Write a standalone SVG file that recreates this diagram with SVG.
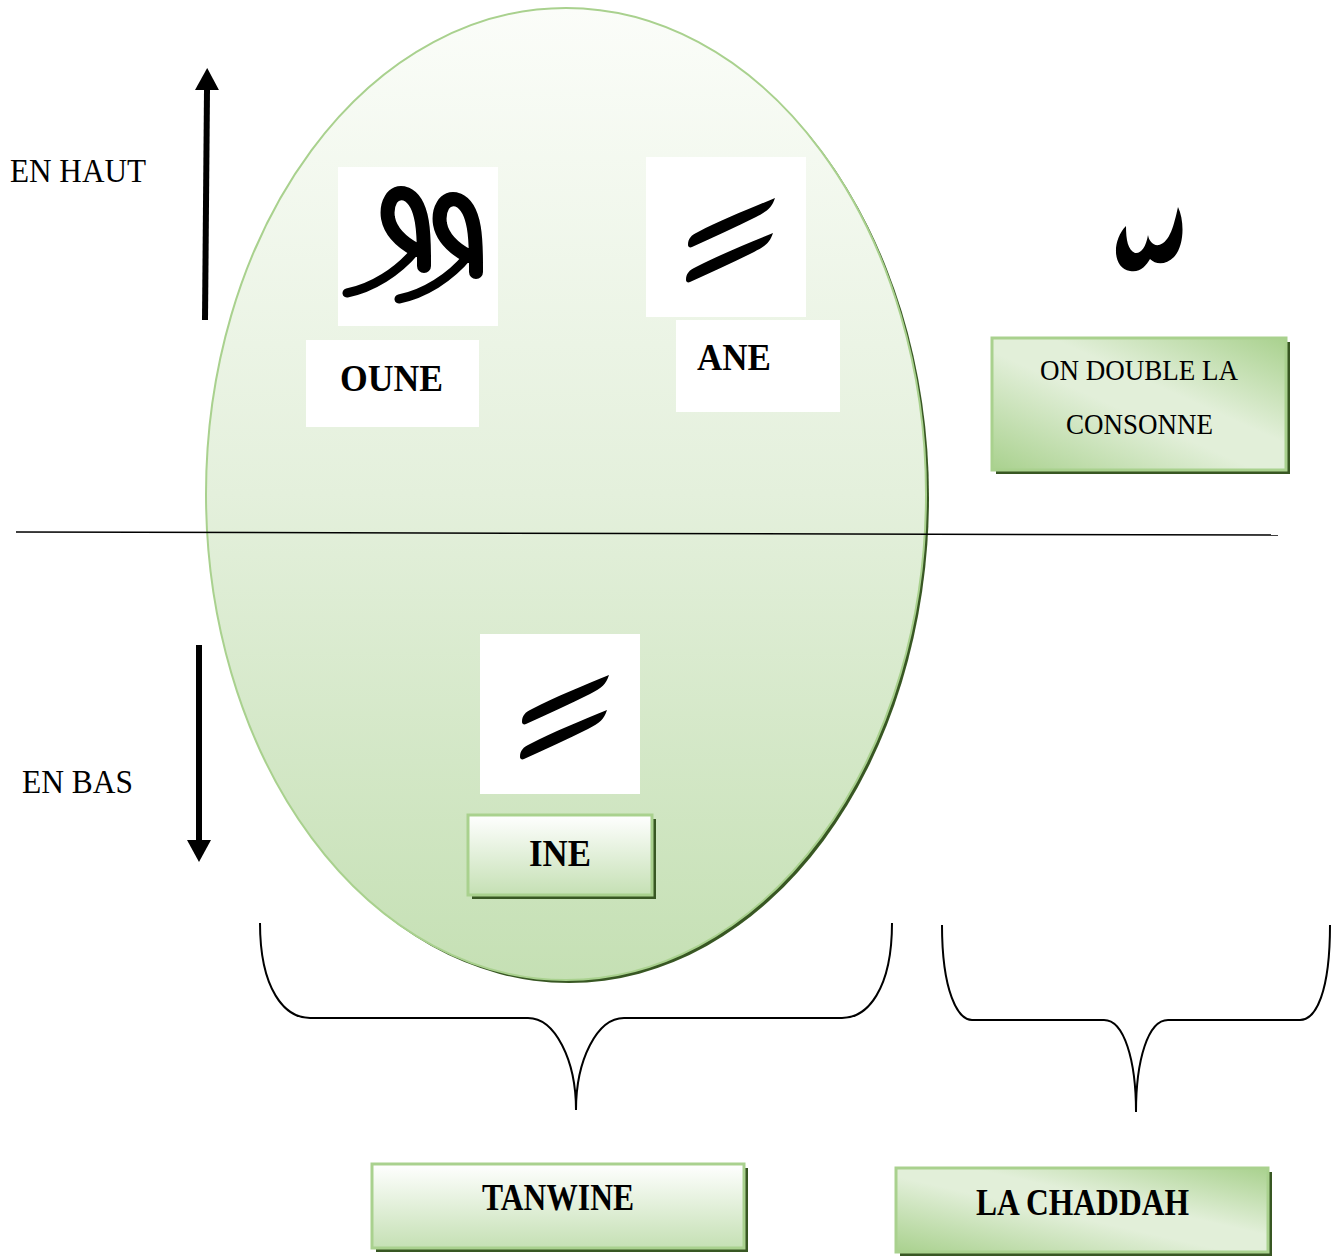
<svg xmlns="http://www.w3.org/2000/svg" xmlns:xlink="http://www.w3.org/1999/xlink" width="1343" height="1257" viewBox="0 0 1343 1257">
<style>
.lbl{font-family:"Liberation Serif","Times New Roman",serif;fill:#000}
.bold{font-weight:bold}
.box{stroke:#a9d18e;stroke-width:3}
.shadow{fill:#385723}
.white{fill:#fff}
.brace{fill:none;stroke:#000;stroke-width:2}
.ink{fill:#000}
.waw{fill:none;stroke:#000;stroke-linecap:round;stroke-linejoin:round}
</style>
<defs>
<linearGradient id="gEll" x1="0" y1="0" x2="0" y2="1">
<stop offset="0" stop-color="#fbfdf9"/>
<stop offset="0.5" stop-color="#e4f0dc"/>
<stop offset="1" stop-color="#c5e0b4"/>
</linearGradient>
<linearGradient id="gVert" x1="0" y1="0" x2="0" y2="1">
<stop offset="0" stop-color="#ffffff"/>
<stop offset="1" stop-color="#c5e0b4"/>
</linearGradient>
<linearGradient id="gDiag" x1="0" y1="1" x2="1" y2="0">
<stop offset="0" stop-color="#a9d18e"/>
<stop offset="0.45" stop-color="#e2efd9"/>
<stop offset="0.6" stop-color="#e2efd9"/>
<stop offset="1" stop-color="#a9d18e"/>
</linearGradient>
<marker id="ah" viewBox="0 0 22 24" refX="0" refY="12" markerWidth="22" markerHeight="24" markerUnits="userSpaceOnUse" orient="auto">
<path d="M0,0 L22,12 L0,24 Z" fill="#000"/>
</marker>
<g id="fatha2">
<path class="ink" d="M42,88 C42,82 45,78 52,75 C75,63 105,51 129,41 C126,50 122,54 110,60 C90,70 68,80 46,90 C44,91 42,90 42,88 Z"/>
<path class="ink" d="M40,123 C40,117 43,113 50,110 C73,98 103,86 127,76 C124,85 120,89 108,95 C88,105 66,115 44,125 C42,126 40,125 40,123 Z"/>
</g>
<g id="waw">
<path class="waw" stroke-width="14" d="M424,266 C424,240 425,202 406,194 C392,189 386,205 388,218 C391,234 405,244 416,250"/>
<path class="waw" stroke-width="9" d="M416,250 C398,272 372,288 347,293"/>
</g>
</defs>

<g id="ellipse-node">
<ellipse cx="569" cy="497" rx="360" ry="486" fill="#385723"/>
<ellipse cx="566" cy="494" rx="360" ry="486" fill="url(#gEll)" stroke="#a9d18e" stroke-width="2"/>
</g>

<g id="connectors">
<line x1="16" y1="532" x2="1278" y2="535" stroke="#000" stroke-width="1.5"/>
<line x1="205" y1="320" x2="207" y2="90" stroke="#000" stroke-width="6" marker-end="url(#ah)"/>
<line x1="199" y1="645" x2="199" y2="840" stroke="#000" stroke-width="6" marker-end="url(#ah)"/>
<path class="brace" d="M260,923 C260,990 285,1018 310,1018 L528,1018 C555,1018 576,1060 576,1110 C576,1060 597,1018 624,1018 L842,1018 C867,1018 892,990 892,923"/>
<path class="brace" d="M942,925 C942,992 958,1020 972,1020 L1104,1020 C1124,1020 1136,1060 1136,1112 C1136,1060 1148,1020 1168,1020 L1300,1020 C1316,1020 1330,992 1330,925"/>
</g>

<g id="en-haut"><text class="lbl" x="10" y="182" font-size="34" textLength="136" lengthAdjust="spacingAndGlyphs">EN HAUT</text></g>
<g id="en-bas"><text class="lbl" x="22" y="793" font-size="34" textLength="111" lengthAdjust="spacingAndGlyphs">EN BAS</text></g>

<g id="oune-glyph">
<rect class="white" x="338" y="167" width="160" height="159"/>
<use xlink:href="#waw" href="#waw"/>
<use xlink:href="#waw" href="#waw" transform="translate(52,6)"/>
</g>
<g id="oune">
<rect class="white" x="306" y="340" width="173" height="87"/>
<text class="lbl bold" x="340" y="391" font-size="38" textLength="103" lengthAdjust="spacingAndGlyphs">OUNE</text>
</g>

<g id="ane-glyph">
<rect class="white" x="646" y="157" width="160" height="160"/>
<use xlink:href="#fatha2" href="#fatha2" transform="translate(646,157)"/>
</g>
<g id="ane">
<rect class="white" x="676" y="320" width="164" height="92"/>
<text class="lbl bold" x="697" y="370" font-size="38" textLength="74" lengthAdjust="spacingAndGlyphs">ANE</text>
</g>

<g id="ine-glyph">
<rect class="white" x="480" y="634" width="160" height="160"/>
<use xlink:href="#fatha2" href="#fatha2" transform="translate(480,634)"/>
</g>
<g id="ine">
<rect class="shadow" x="472" y="819" width="184" height="80"/>
<rect class="box" x="468" y="815" width="184" height="80" fill="url(#gVert)"/>
<text class="lbl bold" x="529" y="866" font-size="38" textLength="62" lengthAdjust="spacingAndGlyphs">INE</text>
</g>

<g id="shadda">
<path class="ink" d="M1126,226 C1112,240 1112,268 1130,271 C1140,273 1146,266 1150,259 C1156,265 1166,265 1174,257 C1184,246 1185,222 1178,207 C1174,225 1170,242 1159,245 C1153,246 1149,241 1148,235 C1146,247 1141,254 1135,253 C1128,250 1126,240 1126,226 Z"/>
</g>

<g id="double">
<rect class="shadow" x="996" y="342" width="294" height="132"/>
<rect class="box" x="992" y="338" width="294" height="132" fill="url(#gDiag)"/>
<text class="lbl" x="1040" y="380" font-size="30" textLength="198" lengthAdjust="spacingAndGlyphs">ON DOUBLE LA</text>
<text class="lbl" x="1066" y="434" font-size="30" textLength="147" lengthAdjust="spacingAndGlyphs">CONSONNE</text>
</g>

<g id="tanwine">
<rect class="shadow" x="376" y="1168" width="372" height="84"/>
<rect class="box" x="372" y="1164" width="372" height="84" fill="url(#gVert)"/>
<text class="lbl bold" x="482" y="1210" font-size="38" textLength="152" lengthAdjust="spacingAndGlyphs">TANWINE</text>
</g>

<g id="chaddah">
<rect class="shadow" x="900" y="1172" width="372" height="84"/>
<rect class="box" x="896" y="1168" width="372" height="84" fill="url(#gDiag)"/>
<text class="lbl bold" x="976" y="1215" font-size="38" textLength="213" lengthAdjust="spacingAndGlyphs">LA CHADDAH</text>
</g>
</svg>
